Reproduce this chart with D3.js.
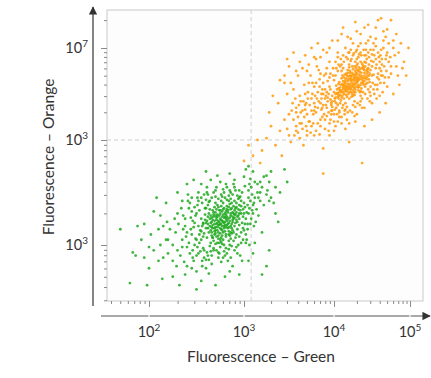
<!DOCTYPE html>
<html>
<head>
<meta charset="utf-8">
<script src="https://cdn.jsdelivr.net/npm/d3@7"></script>
<style>
  body { margin: 0; background: #ffffff; }
  svg { display: block; }
  text { font-family: Lato, "Open Sans", sans-serif; fill: #333333; }
</style>
</head>
<body>
<script>

// ---- data (log10 of fluorescence) ----
var greenCells = [
  [2.78,1.22],[2.74,1.19],[2.81,1.25],[2.70,1.17],[2.86,1.28],[2.76,1.15],[2.83,1.20],[2.69,1.23],[2.90,1.26],[2.72,1.29],
  [2.80,1.13],[2.65,1.14],[2.88,1.31],[2.77,1.32],[2.93,1.22],[2.62,1.20],[2.84,1.10],[2.71,1.08],[2.97,1.30],[2.75,1.25],
  [2.79,1.18],[2.68,1.27],[2.87,1.16],[2.73,1.12],[2.91,1.35],[2.66,1.09],[2.82,1.34],[2.60,1.16],[2.95,1.19],[2.78,1.05],
  [2.70,1.31],[2.85,1.23],[2.64,1.25],[2.89,1.12],[2.76,1.37],[2.99,1.27],[2.58,1.11],[2.81,1.29],[2.67,1.19],[2.92,1.40],
  [2.74,1.02],[2.86,1.06],[2.63,1.30],[2.96,1.33],[2.72,1.21],[2.83,1.16],[2.69,1.13],[2.80,1.27],[2.77,1.09],[2.88,1.24],
  [3.01,1.36],[2.56,1.18],[2.75,1.33],[2.90,1.18],[2.61,1.07],[2.85,1.39],[2.71,1.26],[2.79,1.00],[2.94,1.28],[2.66,1.22],
  [2.83,1.31],[2.59,1.24],[2.87,1.11],[2.73,1.36],[2.98,1.21],[2.68,1.04],[2.81,1.08],[2.64,1.34],[2.91,1.29],[2.76,1.20],
  [3.03,1.31],[2.55,1.13],[2.84,1.42],[2.70,1.01],[2.93,1.15],[2.62,1.27],[2.78,1.40],[2.86,1.34],[2.67,1.16],[2.97,1.37],
  [2.74,1.28],[2.80,1.22],[2.72,1.17],[2.85,1.26],[2.77,1.14],[2.69,1.20],[2.82,1.19],[2.75,1.11],[2.89,1.30],[2.65,1.28],
  [2.92,1.24],[2.60,1.21],[2.79,1.35],[2.71,1.24],[2.84,1.13],[2.68,1.31],[2.87,1.20],[2.73,1.06],[2.95,1.25],[2.63,1.12],
  [2.90,1.33],[2.76,1.03],[2.82,1.37],[2.66,1.26],[3.00,1.30],[2.57,1.21],[2.81,1.17],[2.70,1.14],[2.88,1.27],[2.78,1.29],
  [2.76,1.24],[2.79,1.21],[2.73,1.23],[2.82,1.27],[2.77,1.18],[2.71,1.20],[2.84,1.21],[2.75,1.16],[2.80,1.30],[2.69,1.16],
  [2.86,1.30],[2.74,1.33],[2.78,1.12],[2.88,1.22],[2.67,1.24],[2.81,1.10],[2.72,1.27],[2.90,1.29],[2.64,1.18],[2.83,1.33],
  [2.77,1.27],[2.70,1.11],[2.86,1.18],[2.75,1.30],[2.92,1.31],[2.66,1.12],[2.79,1.16],[2.73,1.09],[2.84,1.36],[2.68,1.29],
  [2.88,1.14],[2.74,1.22],[2.82,1.23],[2.62,1.16],[2.94,1.34],[2.78,1.34],[2.70,1.28],[2.85,1.09],[2.65,1.21],[2.91,1.21],
  [2.80,1.19],[2.76,1.07],[2.87,1.35],[2.69,1.10],[2.83,1.25],[2.72,1.14],[2.89,1.25],[2.61,1.23],[2.77,1.23],[2.95,1.30],
  [2.73,1.19],[2.81,1.32],[2.66,1.17],[2.86,1.12],[2.79,1.26],[2.71,1.34],[2.93,1.27],[2.67,1.07],[2.84,1.17],[2.75,1.20],
  [2.50,1.05],[2.55,1.25],[2.60,1.35],[2.65,1.02],[2.70,1.40],[2.75,0.98],[2.80,1.45],[2.85,1.00],[2.90,1.42],[2.95,1.08],
  [3.00,1.40],[3.05,1.30],[2.52,1.18],[2.58,0.95],[2.63,1.41],[2.68,0.97],[2.73,1.44],[2.79,0.94],[2.84,1.47],[2.89,1.04],
  [2.94,1.44],[2.99,1.16],[3.04,1.38],[2.48,1.00],[2.53,1.33],[2.57,1.08],[2.62,1.38],[2.67,1.07],[2.72,1.38],[2.77,1.01],
  [2.82,1.43],[2.87,0.99],[2.92,1.36],[2.97,1.02],[3.02,1.25],[3.07,1.42],[2.46,1.23],[2.51,0.98],[2.56,1.40],[2.61,0.93],
  [2.66,1.45],[2.71,0.95],[2.76,1.42],[2.81,0.97],[2.86,1.44],[2.91,1.07],[2.96,1.46],[3.01,1.20],[3.06,1.35],[2.44,1.15],
  [2.49,1.28],[2.54,0.94],[2.59,1.29],[2.64,0.99],[2.69,1.36],[2.74,0.92],[2.79,1.50],[2.84,1.04],[2.89,1.37],[2.94,1.00],
  [2.99,1.34],[3.04,1.15],[3.09,1.33],[2.42,1.02],[2.47,1.17],[2.52,1.42],[2.57,1.20],[2.62,0.90],[2.67,1.33],[2.72,1.02],
  [2.77,1.46],[2.82,0.92],[2.87,1.40],[2.92,1.10],[2.97,1.42],[3.02,1.02],[3.07,1.20],[3.12,1.45],[2.40,1.12],[2.45,1.32],
  [2.50,0.90],[2.55,1.05],[2.60,1.43],[2.65,0.94],[2.70,1.46],[2.75,1.05],[2.80,0.90],[2.85,1.52],[2.90,0.95],[2.95,1.38],
  [3.00,1.14],[3.05,1.52],[3.10,1.30],[2.38,1.25],[2.43,0.92],[2.48,1.36],[2.53,1.10],[2.58,1.48],[2.63,0.86],[2.68,1.50],
  [2.73,0.88],[2.78,1.53],[2.83,0.85],[2.88,1.48],[2.93,0.92],[2.98,1.50],[3.03,1.05],[3.08,1.55],[3.13,1.22],[2.36,1.15],
  [2.41,1.42],[2.46,0.88],[2.51,1.45],[2.56,0.85],[2.61,1.50],[2.66,0.82],[2.71,1.55],[2.76,0.84],[2.81,1.58],[2.86,0.88],
  [2.91,1.52],[2.96,0.90],[3.01,1.56],[3.06,1.00],[3.11,1.40],[3.16,1.45],[3.18,1.60],[3.22,1.38],[3.26,1.52],[3.30,1.45],
  [2.45,1.10],[2.50,1.30],[2.40,0.98],[3.05,1.45],[3.10,1.38],[2.35,1.05],[2.52,0.92],[3.15,1.50],[2.48,1.21],[3.08,1.25],
  [2.42,1.35],[2.55,1.45],[3.12,1.60],[2.30,0.95],[2.58,0.88],[2.95,1.52],[2.38,1.18],[3.02,1.10],[2.53,1.02],[2.90,1.55],
  [2.28,1.12],[2.47,0.85],[3.18,1.42],[2.62,1.48],[2.44,1.26],[3.06,1.58],[2.33,0.90],[2.57,0.97],[2.99,1.05],[2.86,1.50],
  [2.25,1.00],[2.60,0.86],[3.20,1.55],[2.51,1.38],[2.39,1.08],[3.04,1.20],[2.46,0.95],[2.70,1.52],[2.36,1.28],[3.14,1.34],
  [2.20,0.92],[2.66,0.90],[3.22,1.65],[2.43,1.40],[2.54,1.14],[2.93,1.47],[2.31,1.20],[2.73,0.93],[3.09,1.48],[2.49,1.06],
  [2.18,1.05],[2.64,1.42],[3.25,1.48],[2.37,0.84],[2.59,1.35],[2.84,0.96],[2.27,1.25],[2.76,1.48],[3.11,1.18],[2.41,1.48],
  [2.15,0.88],[2.82,1.55],[3.28,1.60],[2.34,1.35],[2.56,0.80],[2.97,1.12],[2.22,1.15],[2.68,0.95],[3.16,1.28],[2.45,0.78],
  [2.12,1.00],[2.89,1.58],[3.30,1.70],[2.29,0.80],[2.61,1.55],[2.92,0.98],[2.19,1.22],[2.78,0.88],[3.07,1.63],[2.52,1.50],
  [2.90,1.62],[3.00,1.65],[3.10,1.70],[3.15,1.58],[3.25,1.66],[3.35,1.55],[3.05,1.75],[2.95,1.45],[3.18,1.50],[3.28,1.42],
  [2.20,1.05],[2.25,0.85],[2.30,1.30],[2.35,0.98],[2.15,1.18],[2.40,0.80],[2.50,0.75],[2.60,0.78],[2.45,1.45],[2.35,1.42],
  [2.65,1.62],[2.55,1.58],[2.75,1.60],[2.85,0.75],[2.98,0.85],[3.10,0.92],[2.05,0.95],[2.10,1.15],[1.95,1.20],[2.00,0.98],
  [1.70,1.15],[1.83,0.93],[1.86,0.90],[1.80,0.64],[1.92,1.05],[2.00,0.78],[2.05,1.32],[1.98,0.62],[2.10,0.85],[2.08,1.45],
  [1.88,1.18],[2.14,0.68],[2.25,0.70],[2.32,0.62],[2.40,1.58],[2.38,0.72],[2.55,0.66],[2.63,0.73],[2.70,0.62],[2.88,0.80],
  [2.95,0.72],[3.05,0.85],[3.12,1.02],[3.20,1.12],[3.25,0.80],[3.35,1.30],[3.40,1.50],[3.45,1.72],[3.33,1.40],[3.02,1.72],
  [2.85,1.68],[2.72,1.66],[2.60,1.70],[2.47,1.62],[2.30,1.50],[2.18,1.40],[1.95,0.88],[2.12,1.28],[3.28,0.95],[3.38,1.22],
  [2.02,1.10],[3.20,0.72],[3.48,1.60],[2.80,0.70],[2.50,0.58]
];

var orangeCells = [
  [4.24,2.62],[4.20,2.58],[4.30,2.66],[4.15,2.55],[4.35,2.70],[4.18,2.64],[4.27,2.57],[4.10,2.52],[4.40,2.73],[4.22,2.69],
  [4.32,2.60],[4.05,2.50],[4.28,2.75],[4.13,2.60],[4.38,2.64],[4.19,2.50],[4.45,2.78],[4.25,2.54],[4.08,2.57],[4.33,2.79],
  [4.16,2.67],[4.42,2.68],[4.02,2.46],[4.29,2.62],[4.21,2.73],[4.36,2.56],[4.11,2.48],[4.47,2.72],[4.23,2.59],[4.31,2.83],
  [4.07,2.63],[4.39,2.77],[4.17,2.53],[4.26,2.68],[4.00,2.52],[4.44,2.62],[4.14,2.71],[4.34,2.52],[4.20,2.45],[4.50,2.80],
  [4.09,2.43],[4.27,2.80],[4.37,2.69],[4.12,2.55],[4.24,2.50],[4.41,2.58],[4.03,2.59],[4.30,2.72],[4.18,2.76],[4.46,2.66],
  [4.22,2.64],[4.06,2.45],[4.35,2.85],[4.15,2.62],[4.28,2.55],[4.43,2.75],[3.98,2.48],[4.32,2.65],[4.10,2.67],[4.38,2.81],
  [4.21,2.56],[4.26,2.61],[4.19,2.69],[4.33,2.58],[4.13,2.50],[4.40,2.70],[4.04,2.55],[4.29,2.78],[4.16,2.58],[4.48,2.76],
  [4.23,2.70],[4.08,2.49],[4.36,2.62],[4.25,2.48],[4.12,2.64],[4.42,2.84],[4.01,2.42],[4.31,2.68],[4.20,2.79],[4.52,2.71],
  [4.27,2.64],[4.17,2.47],[4.34,2.74],[4.14,2.57],[4.39,2.60],[4.06,2.61],[4.24,2.73],[4.44,2.69],[3.96,2.44],[4.30,2.58],
  [4.11,2.70],[4.37,2.78],[4.22,2.52],[4.47,2.63],[4.09,2.54],[4.28,2.85],[4.18,2.61],[4.41,2.80],[4.05,2.47],[4.33,2.66],
  [4.26,2.57],[4.15,2.65],[4.35,2.60],[4.21,2.66],[4.29,2.70],[4.12,2.59],[4.43,2.72],[4.19,2.55],[4.38,2.67],[4.07,2.52],
  [4.31,2.76],[4.23,2.47],[4.46,2.82],[4.16,2.72],[4.32,2.54],[4.02,2.50],[4.27,2.71],[4.40,2.64],[4.13,2.45],[4.25,2.77],
  [4.24,2.65],[4.21,2.61],[4.27,2.68],[4.18,2.57],[4.31,2.63],[4.15,2.59],[4.34,2.68],[4.22,2.55],[4.29,2.73],[4.12,2.52],
  [4.36,2.73],[4.19,2.66],[4.26,2.52],[4.40,2.76],[4.14,2.63],[4.32,2.57],[4.08,2.54],[4.25,2.71],[4.38,2.62],[4.17,2.70],
  [4.43,2.66],[4.10,2.46],[4.28,2.60],[4.21,2.75],[4.35,2.53],[4.06,2.56],[4.30,2.81],[4.16,2.49],[4.45,2.74],[4.23,2.57],
  [4.33,2.71],[4.11,2.61],[4.27,2.49],[4.39,2.79],[4.19,2.59],[4.04,2.51],[4.36,2.66],[4.24,2.80],[4.13,2.68],[4.42,2.61],
  [4.20,2.52],[4.30,2.64],[4.09,2.60],[4.37,2.83],[4.26,2.66],[4.15,2.53],[4.34,2.77],[4.22,2.67],[4.46,2.70],[4.18,2.73],
  [4.28,2.52],[4.12,2.57],[4.40,2.67],[4.25,2.59],[4.32,2.75],[4.07,2.48],[4.21,2.70],[4.44,2.77],[4.16,2.56],[4.29,2.67],
  [3.90,2.45],[3.95,2.58],[4.00,2.65],[4.05,2.38],[4.10,2.75],[4.15,2.33],[4.20,2.82],[4.25,2.38],[4.30,2.88],[4.35,2.48],
  [4.40,2.85],[4.45,2.55],[4.50,2.70],[4.55,2.78],[4.60,2.85],[3.92,2.52],[3.97,2.40],[4.02,2.70],[4.07,2.32],[4.12,2.78],
  [4.17,2.36],[4.22,2.86],[4.27,2.42],[4.32,2.90],[4.37,2.45],[4.42,2.92],[4.47,2.52],[4.52,2.85],[4.57,2.68],[4.62,2.75],
  [3.88,2.50],[3.93,2.64],[3.98,2.36],[4.03,2.78],[4.08,2.40],[4.13,2.85],[4.18,2.30],[4.23,2.88],[4.28,2.36],[4.33,2.93],
  [4.38,2.52],[4.43,2.88],[4.48,2.58],[4.53,2.92],[4.58,2.72],[4.63,2.88],[3.86,2.45],[3.91,2.38],[3.96,2.72],[4.01,2.33],
  [4.06,2.82],[4.11,2.35],[4.16,2.90],[4.21,2.32],[4.26,2.94],[4.31,2.40],[4.36,2.92],[4.41,2.50],[4.46,2.90],[4.51,2.62],
  [4.56,2.82],[4.61,2.62],[4.66,2.80],[3.84,2.58],[3.89,2.70],[3.94,2.30],[3.99,2.78],[4.04,2.28],[4.09,2.88],[4.14,2.28],
  [4.19,2.95],[4.24,2.30],[4.29,2.96],[4.34,2.38],[4.39,2.98],[4.44,2.45],[4.49,2.86],[4.54,2.60],[4.59,2.90],[4.64,2.70],
  [4.69,2.92],[3.82,2.35],[3.87,2.55],[3.92,2.78],[3.97,2.28],[4.02,2.85],[4.07,2.25],[4.12,2.92],[4.17,2.22],[4.22,2.98],
  [4.27,2.26],[4.32,3.02],[4.37,2.35],[4.42,2.98],[4.47,2.42],[4.52,2.98],[4.57,2.55],[4.62,2.98],[4.67,2.68],[4.72,2.85],
  [3.80,2.62],[3.85,2.72],[3.90,2.22],[3.95,2.85],[4.00,2.20],[4.05,2.95],[4.10,2.18],[4.15,3.00],[4.20,2.18],[4.25,3.05],
  [4.30,2.28],[4.35,3.05],[4.40,2.35],[4.45,3.08],[4.50,2.40],[4.55,3.10],[4.60,2.48],[4.65,3.08],[4.70,2.58],[4.75,2.72],
  [3.75,2.32],[3.78,2.40],[3.72,2.62],[3.68,2.50],[3.63,2.42],[3.64,2.18],[3.69,2.15],[3.58,2.30],[3.54,2.40],[3.50,2.28],
  [3.85,2.40],[3.90,2.55],[3.80,2.30],[4.55,2.88],[4.60,2.78],[3.75,2.45],[3.92,2.35],[4.58,2.95],[3.88,2.62],[4.62,2.70],
  [3.82,2.52],[3.95,2.68],[4.65,3.00],[3.70,2.28],[3.98,2.32],[4.50,2.93],[3.78,2.58],[4.57,2.60],[3.93,2.42],[4.45,2.95],
  [3.68,2.38],[3.87,2.25],[4.68,2.88],[4.05,2.75],[3.84,2.66],[4.55,3.02],[3.73,2.20],[3.97,2.38],[4.52,2.55],[4.40,2.92],
  [3.65,2.32],[4.00,2.28],[4.70,2.95],[3.91,2.72],[3.79,2.48],[4.59,2.66],[3.86,2.33],[4.10,2.82],[3.76,2.62],[4.63,2.82],
  [3.60,2.25],[4.03,2.35],[4.72,3.05],[3.83,2.76],[3.94,2.50],[4.48,2.98],[3.71,2.52],[4.12,2.38],[4.61,2.92],[3.89,2.28],
  [3.58,2.35],[4.08,2.80],[4.74,2.90],[3.77,2.18],[3.99,2.70],[4.35,2.95],[3.67,2.60],[4.18,2.88],[4.66,2.62],[3.81,2.80],
  [3.55,2.22],[4.25,2.92],[4.78,3.00],[3.74,2.70],[3.96,2.22],[4.53,2.50],[3.62,2.48],[4.15,2.40],[4.69,2.75],[3.85,2.15],
  [4.30,2.98],[4.42,3.05],[4.20,2.95],[4.05,2.90],[4.56,2.45],[4.64,2.52],[4.75,2.80],[4.80,2.92],[4.35,2.42],[4.48,2.48],
  [3.60,2.08],[3.65,2.12],[3.70,2.05],[3.75,2.15],[3.80,2.10],[3.85,2.22],[3.90,2.12],[3.95,2.18],[4.00,2.10],[4.05,2.20],
  [3.62,2.18],[3.67,2.25],[3.72,2.20],[3.77,2.28],[3.82,2.18],[3.87,2.35],[3.92,2.26],[3.97,2.32],[4.02,2.15],[4.07,2.30],
  [3.58,2.15],[3.63,2.30],[3.68,2.33],[3.73,2.38],[3.78,2.32],[3.83,2.42],[3.88,2.38],[3.93,2.46],[3.98,2.42],[4.03,2.40],
  [3.56,2.05],[3.61,2.38],[3.66,2.42],[3.71,2.45],[3.76,2.50],[3.81,2.45],[3.86,2.50],[3.91,2.48],[3.96,2.55],[4.01,2.45],
  [3.48,2.12],[3.53,2.32],[3.57,2.45],[3.74,2.08],[3.84,2.06],[3.94,2.10],[4.10,2.25],[4.14,2.32],[3.69,2.40],[3.79,2.36],
  [3.45,2.70],[3.50,2.80],[3.55,2.95],[3.62,2.85],[3.68,2.92],[3.75,3.00],[3.80,2.88],[3.58,2.75],[3.65,2.78],[3.52,2.62],
  [3.70,2.75],[3.78,2.90],[3.88,2.98],[3.48,2.88],[3.40,2.65],[3.82,3.05],[3.92,2.95],[3.98,3.08],
  [4.10,3.15],[4.22,3.10],[4.35,3.15],[4.48,3.12],[4.55,3.22],[4.65,3.18],[4.40,3.22],[4.28,3.28],[4.12,3.22],[4.52,3.05],
  [4.68,3.12],[4.78,3.08],[4.85,2.95],[4.82,2.80],[4.90,2.78],[4.72,2.68],[4.84,2.70],
  [3.40,2.10],[3.45,2.22],[3.50,2.05],[3.35,1.95],[3.30,2.15],[3.25,2.02],[3.20,1.90],[3.15,2.00],[3.10,1.85],[3.05,1.95],
  [3.00,1.80],[3.28,2.30],[3.38,2.40],[3.48,2.50],[3.52,1.98],[3.58,2.10],[3.62,2.02],[3.70,2.10],[3.78,2.05],[3.55,2.55],
  [3.45,2.62],[3.60,2.70],[3.72,2.82],[3.85,2.90],[3.95,3.00],[4.05,3.08],[4.18,3.12],[4.30,3.18],[4.45,3.25],[4.58,3.30],
  [4.70,3.20],[4.82,3.15],[4.88,3.05],[4.92,2.85],[4.95,2.70],[4.86,2.60],[4.78,2.50],[4.68,2.40],[4.60,2.30],[4.50,2.22],
  [4.40,2.15],[4.28,2.20],[4.15,2.12],[3.95,2.05],[3.88,1.92],[3.66,1.95],[3.42,1.85],[3.18,1.78],[4.20,1.98],[3.32,2.48],
  [4.75,3.30],[4.62,3.32],[4.98,3.00],[4.37,1.78],[3.88,1.68]
];

var xTickValues = [1e2, 1e3, 1e4, 1e5];
var xTickExps = ["2", "3", "4", "5"];
var yTickValues = [1e1, 1e2, 1e3];
var yTickExps = ["3", "3", "7"];   // as printed on the original
var gateX = 1200, gateY = 100;

// ---- layout ----
var W = 431, H = 378;
var box = { left: 107, right: 423, top: 10, bottom: 301 };

var svg = d3.select("body").append("svg")
    .attr("width", W)
    .attr("height", H);

// piecewise log scales so the decades sit where the original puts them
var x = d3.scaleLog()
    .domain([Math.pow(10, 1.56), 1e2, 1e3, 1e4, 1e5, Math.pow(10, 5.17)])
    .range([box.left, 149, 244, 334, 410, box.right]);

var y = d3.scaleLog()
    .domain([Math.pow(10, 0.47), 1e1, 1e2, 1e3, Math.pow(10, 3.41)])
    .range([box.bottom, 245, 140, 48, box.top]);

// minor ticks 2..9 of every decade inside a domain
function minorTicks(scale) {
    var d = scale.domain(), lo = d[0], hi = d[d.length - 1], out = [];
    for (var k = Math.floor(Math.log10(lo)); k <= Math.ceil(Math.log10(hi)); k++) {
        for (var m = 2; m <= 9; m++) {
            var v = m * Math.pow(10, k);
            if (v >= lo && v <= hi) out.push(v);
        }
    }
    return out;
}

// plot frame
svg.append("rect")
    .attr("x", box.left).attr("y", box.top)
    .attr("width", box.right - box.left).attr("height", box.bottom - box.top)
    .attr("fill", "#fdfdfd").attr("stroke", "#c9c9c9").attr("stroke-width", 1);

// gate lines
svg.append("line")
    .attr("x1", x(gateX)).attr("x2", x(gateX))
    .attr("y1", box.top).attr("y2", box.bottom)
    .attr("stroke", "#cfcfcf").attr("stroke-dasharray", "4,3");
svg.append("line")
    .attr("x1", box.left).attr("x2", box.right)
    .attr("y1", y(gateY)).attr("y2", y(gateY))
    .attr("stroke", "#cfcfcf").attr("stroke-dasharray", "4,3");

// ticks on the frame
function tickAxis(axis, g) {
    g.call(axis);
    g.select(".domain").remove();
    g.selectAll("text").remove();
    g.selectAll("line").attr("stroke", "#8a8a8a");
}
tickAxis(d3.axisBottom(x).tickValues(minorTicks(x)).tickSize(3),
    svg.append("g").attr("transform", "translate(0," + box.bottom + ")"));
tickAxis(d3.axisBottom(x).tickValues(xTickValues).tickSize(6),
    svg.append("g").attr("transform", "translate(0," + box.bottom + ")"));
tickAxis(d3.axisLeft(y).tickValues(minorTicks(y)).tickSize(3),
    svg.append("g").attr("transform", "translate(" + box.left + ",0)"));
tickAxis(d3.axisLeft(y).tickValues(yTickValues).tickSize(6),
    svg.append("g").attr("transform", "translate(" + box.left + ",0)"));

// events
function drawCells(data, colour) {
    svg.append("g").selectAll("circle")
        .data(data).enter().append("circle")
        .attr("cx", function (d) { return x(Math.pow(10, d[0])); })
        .attr("cy", function (d) { return y(Math.pow(10, d[1])); })
        .attr("r", 1.4)
        .attr("fill", colour)
        .attr("fill-opacity", 0.85);
}
drawCells(orangeCells, "#ff9a0a");
drawCells(greenCells, "#1fa81f");

// arrows
svg.append("defs").append("marker")
    .attr("id", "head").attr("viewBox", "0 0 10 10")
    .attr("refX", 9).attr("refY", 5)
    .attr("markerWidth", 7).attr("markerHeight", 7)
    .attr("orient", "auto")
    .append("path").attr("d", "M0,0 L10,5 L0,10 z").attr("fill", "#333");

svg.append("line")
    .attr("x1", 93).attr("y1", 306).attr("x2", 93).attr("y2", 7)
    .attr("stroke", "#333").attr("stroke-width", 1.2)
    .attr("marker-end", "url(#head)");
svg.append("line")
    .attr("x1", 101).attr("y1", 316).attr("x2", 430).attr("y2", 316)
    .attr("stroke", "#555").attr("stroke-width", 1.2)
    .attr("marker-end", "url(#head)");
// small breaks in the arrow line at the decades
svg.append("g").selectAll("line")
    .data(xTickValues).enter().append("line")
    .attr("x1", function (d) { return x(d); }).attr("x2", function (d) { return x(d); })
    .attr("y1", 314).attr("y2", 318)
    .attr("stroke", "#ffffff").attr("stroke-width", 1.2);

// tick labels with superscripts
var xl = svg.append("g").selectAll("text")
    .data(xTickValues).enter().append("text")
    .attr("x", function (d) { return x(d); })
    .attr("y", 337)
    .attr("text-anchor", "middle")
    .attr("font-size", "14.5px");
xl.append("tspan").text("10");
xl.append("tspan").attr("dy", -6).attr("font-size", "10px")
    .text(function (d, i) { return xTickExps[i]; });

var yl = svg.append("g").selectAll("text")
    .data(yTickValues).enter().append("text")
    .attr("x", 88)
    .attr("y", function (d) { return y(d) + 5; })
    .attr("text-anchor", "end")
    .attr("font-size", "14.5px");
yl.append("tspan").text("10");
yl.append("tspan").attr("dy", -6).attr("font-size", "10px")
    .text(function (d, i) { return yTickExps[i]; });

// axis titles
svg.append("text").text("Fluorescence \u2013 Green")
    .attr("x", 261).attr("y", 362)
    .attr("text-anchor", "middle").attr("font-size", "15.5px");
svg.append("text").text("Fluorescence \u2013 Orange")
    .attr("transform", "translate(54,157) rotate(-90)")
    .attr("text-anchor", "middle").attr("font-size", "15.5px");

</script>
</body>
</html>
